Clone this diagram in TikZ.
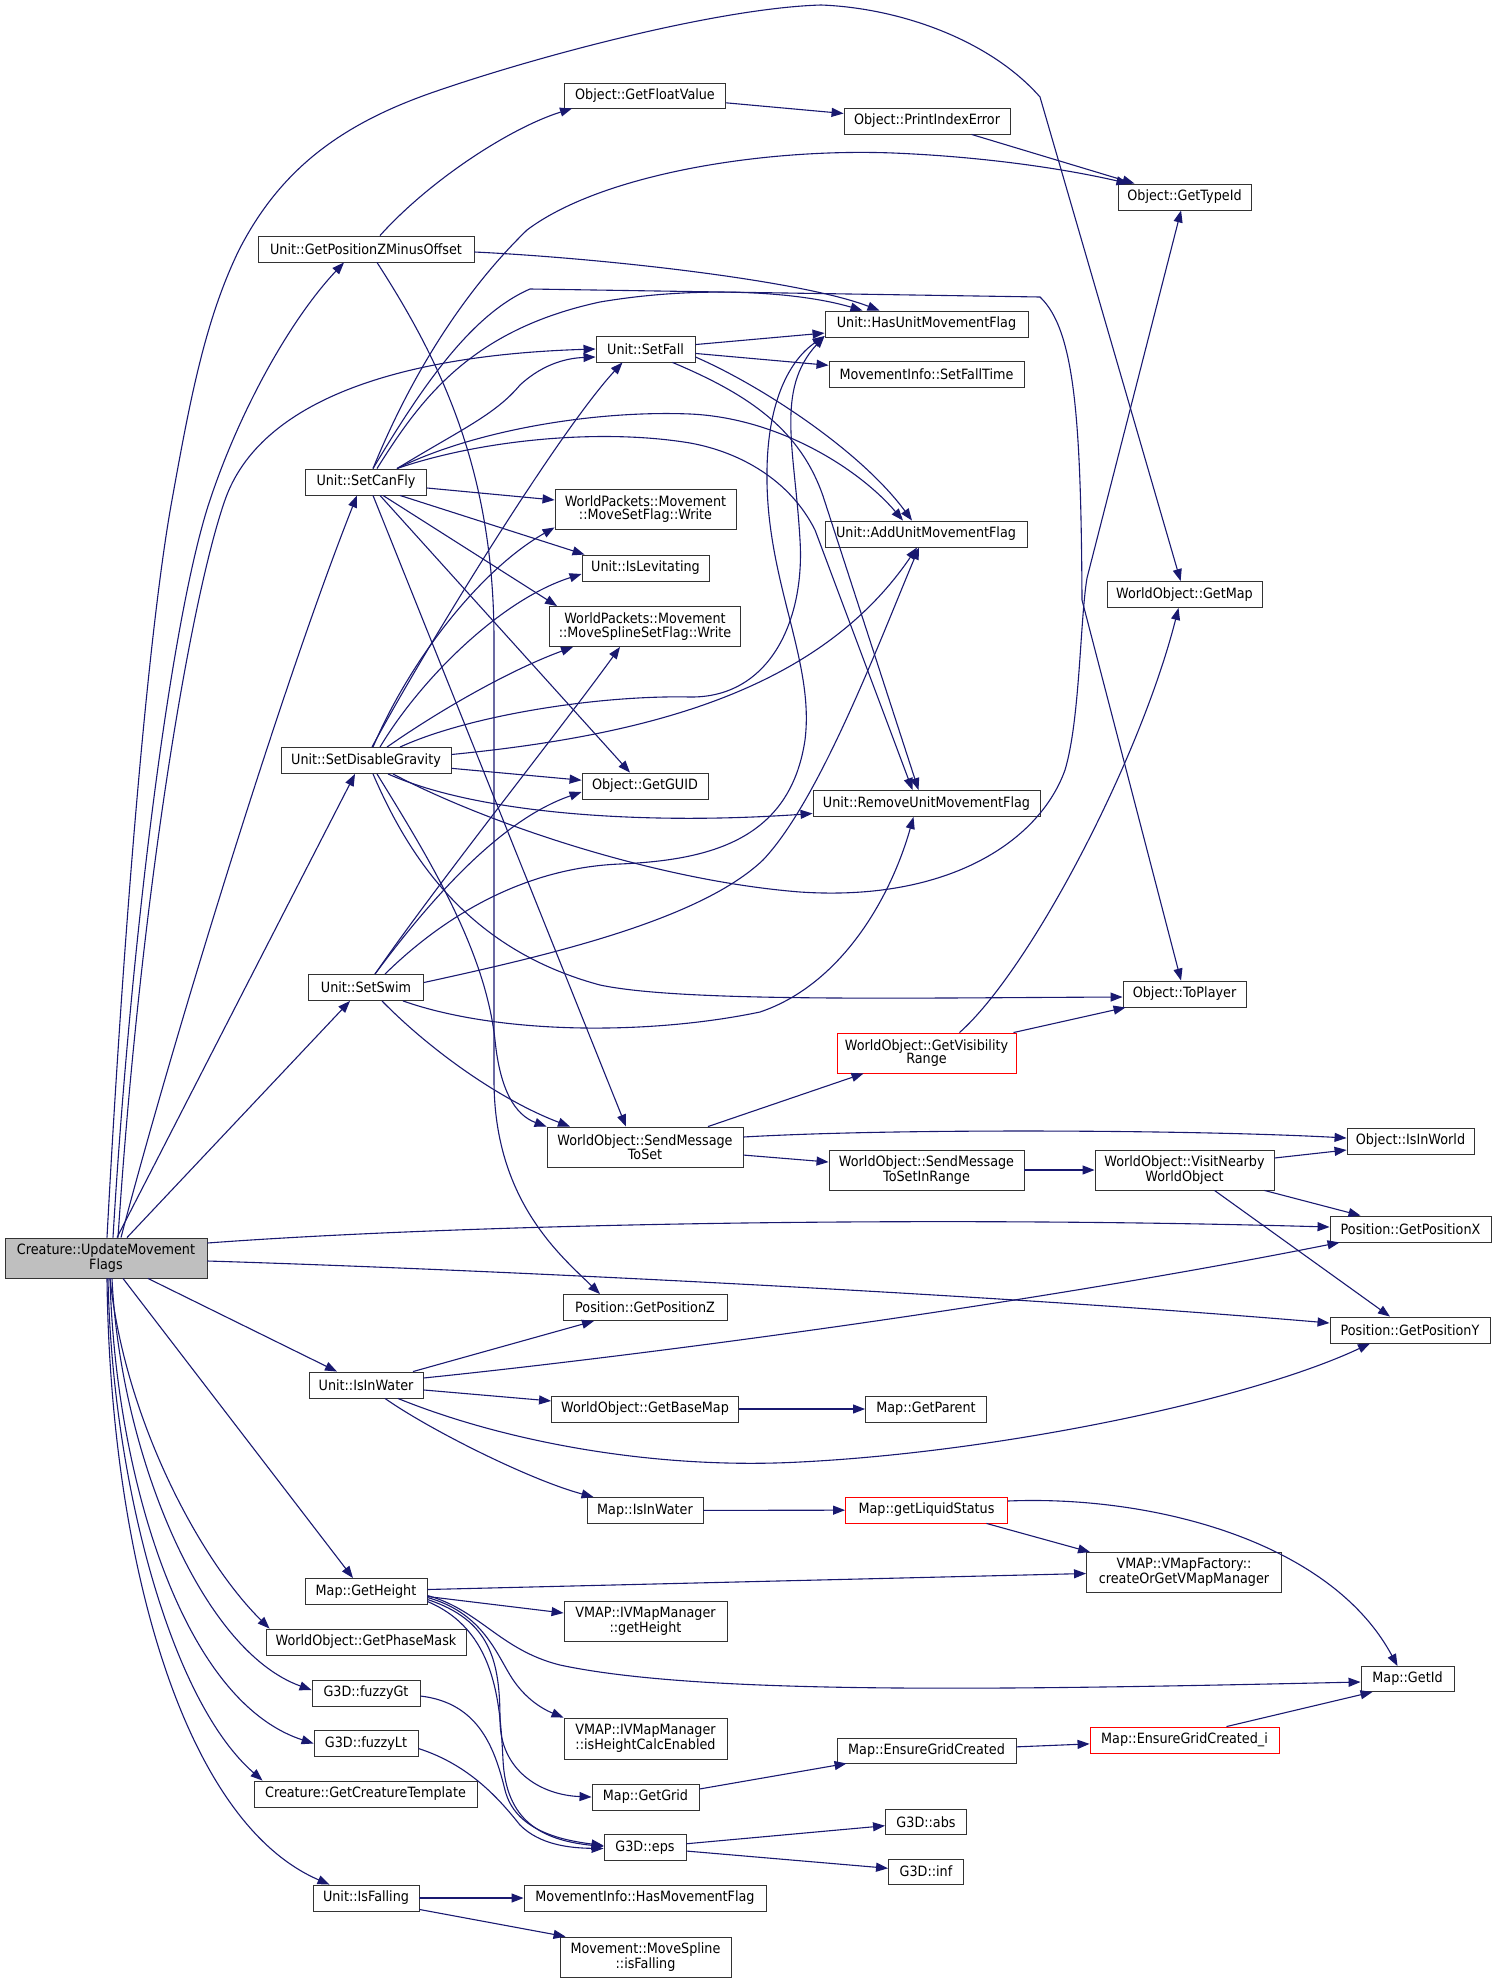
\documentclass[tikz,border=0pt]{standalone}
\usepackage{fontspec}
\setmainfont{DejaVu Sans}[FakeStretch=0.9]
\usetikzlibrary{arrows.meta}
\definecolor{edgec}{HTML}{191970}
\definecolor{rootfill}{HTML}{BFBFBF}
\definecolor{boxline}{HTML}{333333}
\definecolor{redline}{HTML}{FF0000}
\begin{document}
\begin{tikzpicture}[x=1pt,y=-1pt,
  box/.style={draw=boxline, line width=0.9pt, fill=white, inner sep=0pt, align=center,
    font=\fontsize{14.2}{13.4}\selectfont},
  rbox/.style={box, draw=redline},
  ed/.style={draw=edgec, line width=1.1pt, -{Triangle[length=12pt,width=9pt]}}]
\useasboundingbox (0,0) rectangle (1496,1983);
% nodes
\node[box, fill=rootfill, minimum width=202pt, minimum height=40pt] (c) at (106,1258) {Creature::UpdateMovement\\Flags};
\node[box, minimum width=161pt, minimum height=25pt] (gfv) at (645,95.5) {Object::GetFloatValue};
\node[box, minimum width=166pt, minimum height=26pt] (pie) at (927,121) {Object::PrintIndexError};
\node[box, minimum width=133pt, minimum height=26pt] (gti) at (1184.5,197) {Object::GetTypeId};
\node[box, minimum width=216pt, minimum height=26pt] (gzo) at (366,249) {Unit::GetPositionZMinusOffset};
\node[box, minimum width=203pt, minimum height=26pt] (hum) at (926.5,324) {Unit::HasUnitMovementFlag};
\node[box, minimum width=99pt, minimum height=26pt] (sf) at (645.5,349) {Unit::SetFall};
\node[box, minimum width=195pt, minimum height=26pt] (sft) at (926.5,374) {MovementInfo::SetFallTime};
\node[box, minimum width=121pt, minimum height=26pt] (scf) at (366,482) {Unit::SetCanFly};
\node[box, minimum width=181pt, minimum height=40pt] (msf) at (645.5,509) {WorldPackets::Movement\\::MoveSetFlag::Write};
\node[box, minimum width=202pt, minimum height=26pt] (aum) at (926,534) {Unit::AddUnitMovementFlag};
\node[box, minimum width=127pt, minimum height=26pt] (ilv) at (645.5,568) {Unit::IsLevitating};
\node[box, minimum width=155pt, minimum height=26pt] (gm) at (1184.5,594.5) {WorldObject::GetMap};
\node[box, minimum width=191pt, minimum height=40pt] (mss) at (645,626.5) {WorldPackets::Movement\\::MoveSplineSetFlag::Write};
\node[box, minimum width=170pt, minimum height=26pt] (sdg) at (366,760.5) {Unit::SetDisableGravity};
\node[box, minimum width=126pt, minimum height=26pt] (guid) at (645,786) {Object::GetGUID};
\node[box, minimum width=227pt, minimum height=26pt] (rum) at (926.5,803.5) {Unit::RemoveUnitMovementFlag};
\node[box, minimum width=115pt, minimum height=26pt] (ssw) at (366,987.5) {Unit::SetSwim};
\node[box, minimum width=123pt, minimum height=26pt] (tp) at (1184.5,994) {Object::ToPlayer};
\node[rbox, minimum width=179pt, minimum height=40pt] (gvr) at (926.5,1053) {WorldObject::GetVisibility\\Range};
\node[box, minimum width=196pt, minimum height=40pt] (smts) at (645,1147) {WorldObject::SendMessage\\ToSet};
\node[box, minimum width=127pt, minimum height=26pt] (iiw) at (1410.5,1141) {Object::IsInWorld};
\node[box, minimum width=195pt, minimum height=40pt] (smir) at (926.5,1170) {WorldObject::SendMessage\\ToSetInRange};
\node[box, minimum width=179pt, minimum height=40pt] (vnw) at (1184.5,1170) {WorldObject::VisitNearby\\WorldObject};
\node[box, minimum width=161pt, minimum height=26pt] (gpx) at (1410.5,1229) {Position::GetPositionX};
\node[box, minimum width=164pt, minimum height=26pt] (gpz) at (645,1307.5) {Position::GetPositionZ};
\node[box, minimum width=160pt, minimum height=26pt] (gpy) at (1410,1330) {Position::GetPositionY};
\node[box, minimum width=114pt, minimum height=26pt] (uiw) at (366,1385) {Unit::IsInWater};
\node[box, minimum width=187pt, minimum height=26pt] (gbm) at (645,1409) {WorldObject::GetBaseMap};
\node[box, minimum width=121pt, minimum height=26pt] (gpar) at (926,1409) {Map::GetParent};
\node[box, minimum width=116pt, minimum height=26pt] (miw) at (645,1510.5) {Map::IsInWater};
\node[rbox, minimum width=162pt, minimum height=26pt] (gls) at (926.5,1510) {Map::getLiquidStatus};
\node[box, minimum width=195pt, minimum height=40pt] (cvm) at (1184,1572.5) {VMAP::VMapFactory::\\createOrGetVMapManager};
\node[box, minimum width=122pt, minimum height=26pt] (mgh) at (366,1591.5) {Map::GetHeight};
\node[box, minimum width=163pt, minimum height=40pt] (vgh) at (645.5,1621) {VMAP::IVMapManager\\::getHeight};
\node[box, minimum width=200pt, minimum height=26pt] (gpm) at (366,1642) {WorldObject::GetPhaseMask};
\node[box, minimum width=93pt, minimum height=25pt] (gid) at (1407.5,1679) {Map::GetId};
\node[box, minimum width=108pt, minimum height=26pt] (fgt) at (366,1693) {G3D::fuzzyGt};
\node[box, minimum width=163pt, minimum height=41pt] (hce) at (645.5,1738.5) {VMAP::IVMapManager\\::isHeightCalcEnabled};
\node[box, minimum width=104pt, minimum height=26pt] (flt) at (366,1743.5) {G3D::fuzzyLt};
\node[box, minimum width=179pt, minimum height=25pt] (egc) at (926.5,1750.5) {Map::EnsureGridCreated};
\node[rbox, minimum width=189pt, minimum height=26pt] (egci) at (1184.5,1740) {Map::EnsureGridCreated\_i};
\node[box, minimum width=223pt, minimum height=26pt] (gct) at (365.5,1794) {Creature::GetCreatureTemplate};
\node[box, minimum width=107pt, minimum height=26pt] (ggr) at (645.5,1797) {Map::GetGrid};
\node[box, minimum width=81pt, minimum height=25pt] (abs) at (926,1822) {G3D::abs};
\node[box, minimum width=82pt, minimum height=26pt] (eps) at (645,1847.5) {G3D::eps};
\node[box, minimum width=75pt, minimum height=25pt] (inf) at (926,1871.5) {G3D::inf};
\node[box, minimum width=106pt, minimum height=26pt] (ifl) at (366,1898) {Unit::IsFalling};
\node[box, minimum width=242pt, minimum height=26pt] (hmf) at (645,1898) {MovementInfo::HasMovementFlag};
\node[box, minimum width=171pt, minimum height=40pt] (msif) at (645.5,1957) {Movement::MoveSpline\\::isFalling};

% top area
\draw[ed] (gfv) -- (pie);
\draw[ed] (pie) -- ([xshift=-50pt]gti.north);
\draw[ed] ([xshift=14pt]gzo.north) .. controls (430,180) and (510,128) .. ([xshift=8pt]gfv.south west);
\draw[ed] ([yshift=-3pt]gzo.east) .. controls (600,258) and (800,280) .. ([xshift=-47pt]hum.north);
\draw[ed] ([xshift=11pt]gzo.south) .. controls (440,360) and (494,470) .. (494,640) -- (494,1080) .. controls (494,1200) and (560,1255) .. ([xshift=-45pt]gpz.north);

% SetFall
\draw[ed] (sf) -- (hum);
\draw[ed] (sf) -- (sft);
\draw[ed] ([yshift=-8pt]sf.east) .. controls (760,385) and (860,450) .. ([xshift=-14pt]aum.north);
\draw[ed] ([xshift=27pt]sf.south) .. controls (750,395) and (800,430) .. (823,496) -- ([xshift=-8pt]rum.north);

% SetCanFly
\draw[ed] ([xshift=7pt]scf.north) .. controls (405,390) and (455,300) .. (527,230) .. controls (600,175) and (760,148) .. (893,153) .. controls (990,157) and (1070,170) .. ([xshift=-56pt]gti.north);
\draw[ed] ([xshift=7pt]scf.north) .. controls (420,390) and (470,315) .. (530,289) -- (1040,297) .. controls (1075,330) and (1081,420) .. (1082,600) -- (tp);
\draw[ed] ([xshift=11pt]scf.north) .. controls (420,400) and (470,330) .. (600,302) .. controls (700,285) and (800,292) .. ([xshift=-64pt]hum.north);
\draw[ed] ([xshift=31pt]scf.north) .. controls (460,430) and (495,415) .. (520,385) .. controls (545,362) and (570,358) .. ([yshift=-8pt]sf.west);
\draw[ed] ([xshift=31pt]scf.north) .. controls (470,432) and (590,410) .. (690,414) .. controls (780,418) and (860,470) .. ([xshift=-23pt]aum.north);
\draw[ed] ([xshift=31pt]scf.north) .. controls (480,440) and (600,428) .. (690,443) .. controls (740,452) and (790,480) .. (815,530) -- ([xshift=-14pt]rum.north);
\draw[ed] ([yshift=-6pt]scf.east) -- ([yshift=9pt]msf.west);
\draw[ed] ([xshift=34pt]scf.south) -- ([xshift=3pt]ilv.north west);
\draw[ed] ([xshift=17pt]scf.south) -- ([xshift=8pt]mss.north west);
\draw[ed] ([xshift=14pt]scf.south) -- ([xshift=-15pt]guid.north);
\draw[ed] ([xshift=7pt]scf.south) -- ([xshift=-19pt]smts.north);

% SetDisableGravity
\draw[ed] ([xshift=6pt]sdg.north) .. controls (430,640) and (560,430) .. ([xshift=-23pt]sf.south);
\draw[ed] ([xshift=7pt]sdg.north) .. controls (410,660) and (480,570) .. ([yshift=2pt]msf.south west);
\draw[ed] ([xshift=14pt]sdg.north) .. controls (420,680) and (500,600) .. ([yshift=-6pt]ilv.west);
\draw[ed] ([xshift=21pt]sdg.north) .. controls (440,710) and (510,670) .. ([xshift=24pt]mss.south west);
\draw[ed] ([xshift=34pt]sdg.north) .. controls (470,715) and (600,695) .. (690,697) .. controls (770,698) and (805,620) .. (800,540) .. controls (795,450) and (775,390) .. ([yshift=-12pt]hum.west);
\draw[ed] ([yshift=6pt]sdg.east) .. controls (650,735) and (820,690) .. ([xshift=-9pt]aum.south);
\draw[ed] (sdg) -- (guid);
\draw[ed] ([xshift=22pt]sdg.south) .. controls (480,815) and (650,825) .. ([yshift=-10pt]rum.west);
\draw[ed] ([xshift=27pt]sdg.south) .. controls (480,820) and (650,880) .. (800,892) .. controls (950,902) and (1040,840) .. (1065,770) .. controls (1080,720) and (1080,620) .. (1087,578) -- (gti);
\draw[ed] ([xshift=7pt]sdg.south) .. controls (410,860) and (470,950) .. (600,985) .. controls (680,1002) and (900,998) .. ([yshift=-3pt]tp.west);
\draw[ed] ([xshift=11pt]sdg.south) .. controls (430,860) and (485,950) .. (495,1040) .. controls (500,1090) and (515,1115) .. (smts.north west);

% SetSwim
\draw[ed] ([xshift=9pt]ssw.north) .. controls (430,900) and (500,820) .. ([yshift=-6pt]guid.west);
\draw[ed] ([xshift=9pt]ssw.north) .. controls (440,880) and (560,730) .. ([xshift=-25pt]mss.south);
\draw[ed] ([xshift=19pt]ssw.north) .. controls (440,920) and (520,868) .. (620,864) .. controls (710,860) and (790,840) .. (805,740) .. controls (815,660) and (765,580) .. (767,470) .. controls (768,400) and (790,360) .. ([yshift=-12pt]hum.west);
\draw[ed] ([yshift=5pt]ssw.east) .. controls (550,955) and (700,920) .. (763,860) .. controls (820,800) and (880,640) .. ([xshift=-7pt]aum.south);
\draw[ed] ([xshift=37pt]ssw.south) .. controls (500,1035) and (650,1035) .. (760,1012) .. controls (840,985) and (890,900) .. ([xshift=-13pt]rum.south);
\draw[ed] ([xshift=16pt]ssw.south) .. controls (430,1050) and (500,1100) .. ([xshift=-75pt]smts.north);

% SendMessageToSet and after
\draw[ed] ([xshift=63pt]smts.north) -- ([xshift=27pt]gvr.south west);
\draw[ed] ([yshift=10pt]smts.east) .. controls (900,1128) and (1200,1130) .. ([yshift=3pt]iiw.west);
\draw[ed] (smts) -- (smir);
\draw[ed] ([xshift=-3pt]gvr.north east) -- ([xshift=3pt]tp.south west);
\draw[ed] ([xshift=33pt]gvr.north) .. controls (1030,970) and (1140,760) .. ([xshift=-6pt]gm.south);
\draw[ed] (smir) -- (vnw);
\draw[ed] ([yshift=12pt]vnw.east) -- ([yshift=-9pt]iiw.west);
\draw[ed] ([xshift=80pt]vnw.south) -- ([xshift=-50pt]gpx.north);
\draw[ed] ([xshift=30pt]vnw.south) -- ([xshift=-20pt]gpy.north);

% Creature
\draw[ed] ([xshift=1pt]c.north) .. controls (125,900) and (150,620) .. (172,500) .. controls (190,400) and (205,320) .. (239,250) .. controls (280,170) and (340,125) .. (431,93) .. controls (540,55) and (720,8) .. (821,5) .. controls (900,8) and (990,40) .. (1040,97) -- (gm);
\draw[ed] ([xshift=7pt]c.north) .. controls (130,950) and (170,620) .. (210,500) .. controls (240,410) and (290,320) .. ([xshift=-22pt]gzo.south);
\draw[ed] ([xshift=12pt]c.north) .. controls (140,900) and (190,600) .. (225,500) .. controls (260,400) and (400,355) .. (sf.west);
\draw[ed] ([xshift=15pt]c.north) .. controls (170,1050) and (280,690) .. ([xshift=-9pt]scf.south);
\draw[ed] ([xshift=11pt]c.north) -- ([xshift=-11pt]sdg.south);
\draw[ed] ([xshift=21pt]c.north) -- ([xshift=-16pt]ssw.south);
\draw[ed] ([yshift=15pt]c.east) .. controls (450,1225) and (900,1215) .. ([yshift=2pt]gpx.west);
\draw[ed] ([yshift=-3pt]c.east) .. controls (500,1270) and (1000,1295) .. ([yshift=7pt]gpy.west);
\draw[ed] ([xshift=42pt]c.south) -- ([xshift=-29pt]uiw.north);
\draw[ed] ([xshift=17pt]c.south) -- ([xshift=-13pt]mgh.north);
\draw[ed] ([xshift=4pt]c.south) .. controls (125,1420) and (200,1560) .. ([xshift=4pt]gpm.north west);
\draw[ed] ([xshift=6pt]c.south) .. controls (120,1450) and (200,1650) .. ([yshift=3pt]fgt.west);
\draw[ed] ([xshift=4pt]c.south) .. controls (115,1470) and (180,1700) .. (flt.west);
\draw[ed] ([xshift=2pt]c.south) .. controls (112,1480) and (170,1700) .. ([xshift=9pt]gct.north west);
\draw[ed] ([xshift=1pt]c.south) .. controls (110,1550) and (180,1820) .. ([xshift=17pt]ifl.north west);

% IsInWater
\draw[ed] ([xshift=47pt]uiw.north) -- ([xshift=-51pt]gpz.south);
\draw[ed] ([yshift=7pt]uiw.east) .. controls (600,1360) and (1000,1310) .. ([xshift=10pt]gpx.south west);
\draw[ed] (uiw) -- (gbm);
\draw[ed] ([xshift=32pt]uiw.south) .. controls (500,1440) and (650,1470) .. (800,1462) .. controls (1000,1452) and (1250,1400) .. ([xshift=-40pt]gpy.south);
\draw[ed] ([xshift=19pt]uiw.south) .. controls (430,1430) and (530,1480) .. ([xshift=7pt]miw.north west);
\draw[ed] (gbm) -- (gpar);
\draw[ed] (miw) -- (gls);
\draw[ed] ([xshift=60pt]gls.south) -- ([xshift=4pt]cvm.north west);
\draw[ed] ([yshift=9pt]gls.east) .. controls (1150,1495) and (1330,1540) .. ([xshift=-10pt]gid.north);

% Map::GetHeight
\draw[ed] ([yshift=2pt]mgh.east) -- ([yshift=-1pt]cvm.west);
\draw[ed] ([yshift=-5pt]mgh.east) -- ([yshift=8pt]vgh.west);
\draw[ed] ([yshift=-4pt]mgh.east) .. controls (480,1610) and (500,1650) .. (560,1665) .. controls (700,1695) and (1000,1690) .. ([yshift=-3pt]gid.west);
\draw[ed] ([yshift=-6pt]mgh.east) .. controls (480,1612) and (495,1650) .. (510,1675) .. controls (525,1700) and (545,1710) .. (hce.north west);
\draw[ed] ([yshift=-8pt]mgh.east) .. controls (490,1620) and (500,1660) .. (500,1720) .. controls (500,1770) and (540,1795) .. (ggr.west);
\draw[ed] ([yshift=-10pt]mgh.east) .. controls (495,1630) and (500,1700) .. (503,1760) .. controls (506,1820) and (540,1840) .. ([yshift=1pt]eps.west);
\draw[ed] ([yshift=-3pt]fgt.east) .. controls (480,1703) and (495,1750) .. (505,1790) .. controls (515,1830) and (560,1840) .. ([yshift=2pt]eps.west);
\draw[ed] ([yshift=-5pt]flt.east) .. controls (470,1765) and (500,1800) .. (520,1825) .. controls (540,1845) and (570,1848) .. ([yshift=-1pt]eps.west);
\draw[ed] ([yshift=8pt]ggr.east) -- ([xshift=10pt]egc.south west);
\draw[ed] (egc) -- (egci);
\draw[ed] ([xshift=42pt]egci.north) -- ([xshift=-35pt]gid.south);
\draw[ed] (eps) -- (abs);
\draw[ed] (eps) -- (inf);
\draw[ed] (ifl) -- (hmf);
\draw[ed] ([yshift=2pt]ifl.south east) -- ([xshift=6pt]msif.north west);
\end{tikzpicture}
\end{document}
